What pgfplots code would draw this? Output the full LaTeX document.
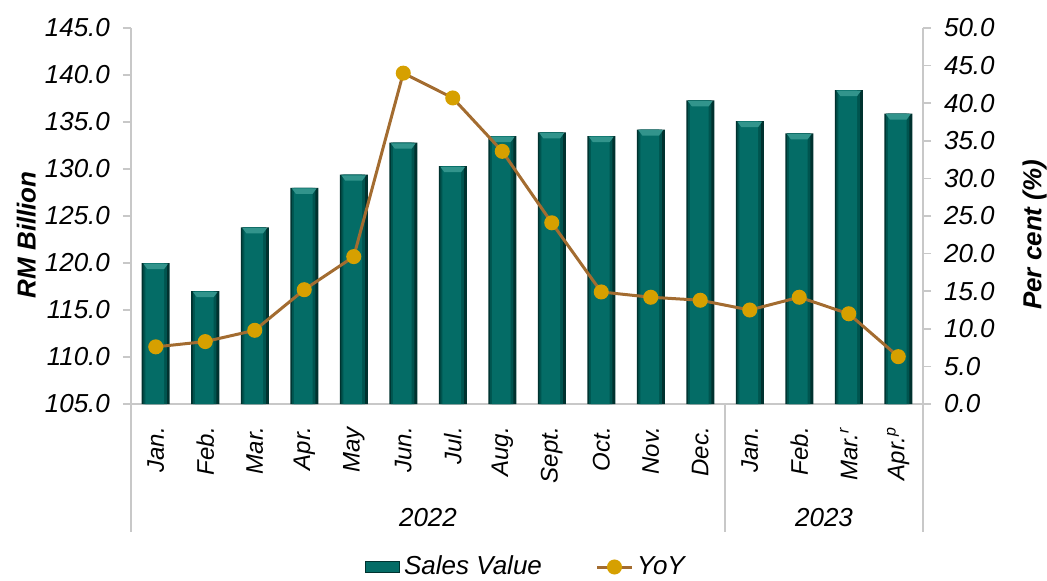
\documentclass[border=0pt]{standalone}
\usepackage{pgfplots}
\usepackage{pgfplotstable}
\pgfplotsset{compat=1.18}
\usepackage{fontspec}
\setmainfont{Liberation Sans}

\definecolor{barmain}{RGB}{4,108,102}
\definecolor{barmid}{RGB}{0,84,79}
\definecolor{bardark}{RGB}{0,50,47}
\definecolor{barcap}{RGB}{50,148,140}
\definecolor{yoyline}{RGB}{163,108,48}
\definecolor{yoymark}{RGB}{214,160,0}
\definecolor{axisgray}{RGB}{200,200,200}

\pgfplotstableread{
x sales yoy
0  120.0 7.6
1  117.0 8.3
2  123.8 9.8
3  128.0 15.2
4  129.4 19.6
5  132.8 44.0
6  130.3 40.7
7  133.5 33.6
8  133.9 24.1
9  133.5 14.9
10 134.2 14.2
11 137.3 13.8
12 135.1 12.5
13 133.8 14.2
14 138.4 12.0
15 135.9 6.3
}\datatable

% light bevel on top of each bar
\pgfdeclareplotmark{bevel}{%
  \pgfpathmoveto{\pgfpoint{-6.2pt}{-0.3pt}}%
  \pgfpathlineto{\pgfpoint{6.2pt}{-0.3pt}}%
  \pgfpathlineto{\pgfpoint{4.2pt}{-3pt}}%
  \pgfpathlineto{\pgfpoint{-4.2pt}{-3pt}}%
  \pgfpathclose
  \pgfusepathqfill}

\tikzset{lab/.style={font=\bfseries\itshape\fontsize{13}{15}\selectfont}}
\pgfplotsset{
  base/.style={
    width=396pt, height=188pt, scale only axis,
    xmin=-0.5, xmax=15.5,
    axis line style={axisgray, line width=0.75pt},
    major tick style={axisgray, line width=0.75pt},
    tick align=outside, major tick length=4pt,
    yticklabel style={font=\itshape\fontsize{13}{15}\selectfont,
      /pgf/number format/.cd, fixed, fixed zerofill, precision=1, assume math mode=true},
    yticklabel shift=3pt,
  },
}

\begin{document}
\begin{tikzpicture}
\begin{axis}[base,
  axis y line*=left, axis x line*=bottom,
  ymin=105, ymax=145, ytick={105,110,...,145},
  xtick={0,...,15},
  xticklabels={Jan.,Feb.,Mar.,Apr.,May,Jun.,Jul.,Aug.,Sept.,Oct.,Nov.,Dec.,Jan.,Feb.,Mar.\textsuperscript{r},Apr.\textsuperscript{p}},
  xticklabel style={rotate=90, anchor=east, font=\itshape\fontsize{12}{14}\selectfont},
  xticklabel shift=4pt,
  x tick style={draw=none},
  clip mode=individual,
  every axis y label/.style={at={(axis description cs:-0.132,0.45)}, rotate=90, anchor=center, lab},
  ylabel={RM Billion},
]
\addplot[ybar, bar shift=0pt, bar width=14pt, draw=none, fill=bardark]
  table[x=x, y=sales]{\datatable};
\addplot[ybar, bar shift=-0.3pt, bar width=11.8pt, draw=none, fill=barmid]
  table[x=x, y=sales]{\datatable};
\addplot[ybar, bar shift=-0.5pt, bar width=9.4pt, draw=none, fill=barmain]
  table[x=x, y=sales]{\datatable};
\addplot[only marks, mark=bevel, mark options={fill=barcap, draw=none}]
  table[x=x, y=sales]{\datatable};
\draw[axisgray, line width=0.75pt] (axis cs:-0.5,105) -- ([yshift=-64pt]axis cs:-0.5,105);
\draw[axisgray, line width=0.75pt] (axis cs:11.5,105) -- ([yshift=-64pt]axis cs:11.5,105);
\draw[axisgray, line width=0.75pt] (axis cs:15.5,105) -- ([yshift=-64pt]axis cs:15.5,105);
\node[font=\itshape\fontsize{13}{15}\selectfont] at ([yshift=-57pt]axis cs:5.5,105) {2022};
\node[font=\itshape\fontsize{13}{15}\selectfont] at ([yshift=-57pt]axis cs:13.5,105) {2023};
\coordinate (o) at (rel axis cs:0,0);
\end{axis}

\begin{axis}[base,
  axis y line*=right, axis x line=none,
  ymin=0, ymax=50, ytick={0,5,...,50},
  every axis y label/.style={at={(axis description cs:1.141,0.45)}, rotate=90, anchor=center, lab},
  ylabel={Per cent (\%)},
  legend style={at={(axis description cs:0.5,-0.4335)}, anchor=center, draw=none, fill=none,
    legend columns=2, font=\itshape\fontsize{13}{15}\selectfont,
    /tikz/every even column/.append style={column sep=25pt}},
]
\addlegendimage{area legend, draw=bardark, fill=barmain}
\addlegendentry{Sales Value}
\addplot[yoyline, line width=1.5pt, mark=*, mark size=3pt,
  mark options={draw=yoymark, fill=yoymark}]
  table[x=x, y=yoy]{\datatable};
\addlegendentry{YoY}
\end{axis}
\pgfresetboundingbox
\path ([shift={(-65.5pt,-88pt)}]o) rectangle ([shift={(458pt,202pt)}]o);
\end{tikzpicture}
\end{document}
